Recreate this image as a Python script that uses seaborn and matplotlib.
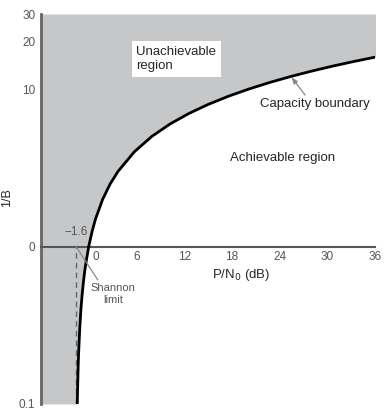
import numpy as np
import matplotlib
matplotlib.use("Agg")
import matplotlib.pyplot as plt
from matplotlib.ticker import FixedLocator
from matplotlib.transforms import ScaledTranslation
import seaborn as sns

# capacity boundary: 1/B (log axis) vs P/N0 in dB
rate = [0.1, 0.15, 0.2, 0.3, 0.4, 0.5, 0.6, 0.7, 0.8, 1.0, 1.25, 1.5, 2.0, 2.5,
        3.0, 4.0, 5.0, 6.0, 7.0, 8.0, 9.0, 10.0, 11.0, 12.0, 13.0, 14.0, 15.0, 16.0]
snr_db = [-1.44, -1.36, -1.29, -1.13, -0.98, -0.82, -0.66, -0.50, -0.33, 0.0, 0.43,
          0.86, 1.76, 2.70, 3.68, 5.74, 7.92, 10.21, 12.59, 15.03, 17.54, 20.10,
          22.70, 25.33, 27.99, 30.68, 33.39, 36.12]

x_ticks = [0, 6, 12, 18, 24, 30, 36]
y_ticks = [0.1, 1, 10, 20, 30]
y_tick_labels = ["0.1", "0", "10", "20", "30"]
shannon_limit = -1.6

sns.set_style("white")
plt.rcParams["font.family"] = ["Liberation Sans", "DejaVu Sans"]

grey = "#c5c7c8"
tick_col = "#555555"

fig = plt.figure(figsize=(3.89, 4.13), dpi=100)
ax = fig.add_axes([0.1054, 0.0218, 0.8586, 0.9443])
ax.set_yscale("log")
ax.set_xlim(-6, 36)
ax.set_ylim(0.1, 30)

# unachievable region (one patch, extended up to the top of the axes)
ax.fill_betweenx(rate + [30], -6, snr_db + [snr_db[-1]], color=grey, lw=0, zorder=0)

sns.lineplot(x=snr_db, y=rate, sort=False, estimator=None, color="black",
             lw=2, ax=ax, zorder=3)

ax.vlines(shannon_limit, 0.1, 1, colors="#666666", linestyles=(0, (4, 3)), lw=1, zorder=2)

# spines
for s in ["top", "right"]:
    ax.spines[s].set_visible(False)
ax.spines["bottom"].set_position(("data", 1))
ax.spines["bottom"].set_color("#555555")
ax.spines["bottom"].set_linewidth(1.5)
ax.spines["left"].set_color("#666666")
ax.spines["left"].set_linewidth(2)

ax.set_xticks(x_ticks)
ax.set_xticklabels([str(t) for t in x_ticks])
ax.set_yticks(y_ticks)
ax.set_yticklabels(y_tick_labels)
ax.yaxis.set_minor_locator(FixedLocator([0.2, 0.3, 0.4, 0.5, 0.6, 0.7, 0.8, 0.9,
                                          2, 3, 4, 5, 6, 7, 8, 9]))
ax.tick_params(axis="x", direction="in", length=7, width=1, colors="#555555",
               labelsize=8.5, pad=3, labelcolor=tick_col)
ax.tick_params(axis="y", which="major", direction="in", length=7, width=1,
               colors="#555555", labelsize=8.5, pad=4, labelcolor=tick_col)
ax.tick_params(axis="y", which="minor", direction="in", length=3.5, width=1,
               colors="#555555")
ax.tick_params(axis="x", which="minor", length=0)
for lbl in ax.get_xticklabels():
    lbl.set_color(tick_col)
# the "0" label sits just right of the curve
zero_lbl = ax.get_xticklabels()[0]
zero_lbl.set_transform(zero_lbl.get_transform() +
                       ScaledTranslation(5 / 72, 0, fig.dpi_scale_trans))

ax.set_ylabel("1/B", fontsize=9, labelpad=12)
ax.yaxis.set_label_coords(-0.085, 0.53)
ax.text(15.5, 0.655, "P/N$_0$ (dB)", fontsize=9.5, ha="left", va="center")

ax.text(6.0, 15.5, "Unachievable\nregion", fontsize=9.5, ha="left", va="center",
        linespacing=1.25,
        bbox=dict(boxstyle="square,pad=0.35", fc="white", ec="none"))
ax.text(17.8, 3.64, "Achievable region", fontsize=9.5, ha="left", va="center")
ax.annotate("Capacity boundary", xy=(25.5, 11.9), xytext=(21.6, 8.0),
            fontsize=9.5, ha="left", va="center",
            arrowprops=dict(arrowstyle="-|>,head_length=0.4,head_width=0.15",
                            color="#888888", lw=0.9,
                            shrinkA=0, shrinkB=0, relpos=(0.43, 1.0)))
ax.text(shannon_limit, 1.23, "\u22121.6", fontsize=8.5, color=tick_col,
        ha="center", va="center")
ax.annotate("Shannon\nlimit", xy=(shannon_limit, 1.0), xytext=(3.1, 0.50),
            fontsize=8, color="#555555", ha="center", va="center",
            linespacing=1.2,
            arrowprops=dict(arrowstyle="-", color="#888888", lw=0.9,
                            shrinkA=0, shrinkB=0, relpos=(0.2, 1.0)))

fig.savefig("out.png", dpi=100)
